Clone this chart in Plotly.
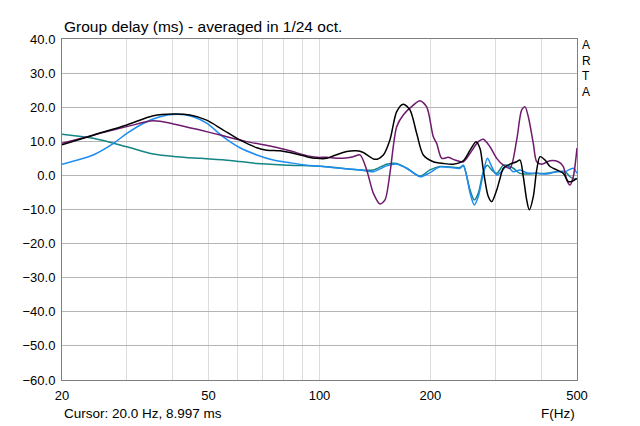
import math
import plotly.graph_objects as go

# ---------------- data ----------------
black_f = [20, 24.3, 30.0, 35.4, 40.1, 44.5, 49.4, 54.8, 60.8, 67.6, 71.9, 78.1, 83.1,
           92.3, 98.3, 104.6, 108.8, 118.6, 126.2, 131.5, 141.5, 149.0, 155.3, 162.0,
           168.8, 176.0, 183.6, 191.3, 203.7, 216.8, 230.8, 245.7, 256.3, 266.0, 272.7,
           278.4, 287.2, 293.4, 302.7, 309.0, 315.5, 328.9, 343.0, 350.2, 357.5, 365.1,
           371.1, 380.5, 388.7, 396.8, 409.4, 422.4, 440.4, 459.0, 473.6, 483.7, 499.0]
black_v = [9.0, 11.8, 14.8, 17.5, 18.0, 17.7, 16.2, 13.3, 10.4, 8.1, 7.4, 7.2, 6.7,
           5.5, 5.0, 5.0, 5.7, 7.0, 7.2, 6.7, 4.7, 6.0, 10.4, 18.7,
           20.9, 19.2, 12.3, 6.0, 4.0, 3.5, 3.3, 4.3, 7.4, 9.9, 7.9,
           1.6, -6.2, -7.7, -4.3, -0.9, 2.1, 3.3, 4.0, 4.5, -0.4, -7.2,
           -10.1, -6.2, 1.6, 5.5, 4.5, 2.6, 1.6, 0.6, -1.8, -1.8, -0.9]

purple_f = [20, 24.3, 30.0, 35.4, 40.1, 47.4, 54.8, 63.4, 74.9, 83.1, 92.3, 98.3, 104.6,
            113.7, 123.5, 128.8, 134.3, 140.0, 146.0, 150.6, 155.3, 162.0, 168.8, 179.7,
            187.4, 195.4, 203.7, 208.0, 214.7, 223.7, 233.3, 245.7, 256.3, 269.8, 278.4,
            290.3, 302.7, 315.5, 328.9, 343.0, 353.9, 361.3, 368.8, 380.5, 388.7, 401.0,
            422.4, 444.9, 459.0, 468.8, 478.6, 488.5, 500.0]
purple_v = [9.4, 11.8, 14.3, 16.0, 15.1, 13.3, 11.6, 9.9, 8.4, 7.2, 5.8, 5.3, 5.3,
            5.0, 5.5, 6.0, 1.6, -5.2, -8.4, -7.2, 0.6, 14.3, 17.7, 20.6,
            21.9, 20.1, 11.3, 9.4, 5.0, 5.3, 4.5, 4.0, 6.5, 9.9, 10.6,
            8.4, 5.0, 3.0, 2.1, 10.4, 19.2, 20.1, 17.2, 9.4, 4.0, 3.3,
            4.3, 4.0, 2.6, -1.3, -2.8, -0.4, 8.0]

blue_f = [20, 24.3, 27.6, 30.0, 33.3, 36.9, 41.0, 45.4, 49.4, 54.8, 60.8, 67.6, 74.9,
          83.1, 92.3, 102.4, 113.7, 128.8, 140.0, 152.2, 162.0, 172.5, 187.4, 199.5,
          212.4, 240.7, 245.7, 251.0, 256.3, 263.2, 269.8, 278.4, 285.5, 293.4, 302.7,
          312.3, 322.2, 335.7, 350.2, 365.1, 388.7, 413.8, 440.4, 464.0, 488.5, 500.0]
blue_v = [3.3, 6.0, 9.4, 12.3, 15.3, 17.2, 17.9, 17.2, 15.3, 11.3, 8.1, 6.0, 4.5,
          3.7, 3.0, 2.6, 2.1, 1.6, 1.1, 2.8, 3.3, 2.1, -0.4, 0.8,
          2.5, 2.1, 3.0, -0.4, -5.2, -8.7, -6.2, 0.6, 5.0, 2.6, 0.1,
          1.1, 2.8, 1.1, 1.6, 0.8, 0.6, 0.4, 1.1, 1.1, 2.1, 0.6]

teal_f = [20, 24.3, 30.0, 35.4, 41.0, 47.4, 57.2, 67.6, 83.1, 102.4, 128.8, 140.0,
          152.2, 162.0, 172.5, 187.4, 199.5, 212.4, 240.7, 245.7, 256.3, 263.2, 269.8,
          278.4, 285.5, 293.4, 302.7, 315.5, 322.2, 335.7, 350.2, 365.1, 388.7, 413.8,
          440.4, 464.0, 478.6, 493.8, 500.0]
teal_v = [12.1, 10.9, 8.4, 6.3, 5.5, 5.0, 4.4, 3.5, 3.0, 2.6, 1.6, 1.6,
          3.3, 3.5, 2.1, -0.2, 1.6, 2.6, 2.3, 2.9, -4.3, -7.2, -5.2,
          1.1, 3.0, 1.6, 0.6, 3.0, 3.0, 2.1, 0.6, 0.4, 0.6, 0.6,
          1.1, 1.1, -0.4, -1.1, -0.9]

x_grid = [20, 30, 40, 50, 60, 70, 80, 90, 100, 200, 300, 400, 500]
x_labels = ["20", "", "", "50", "", "", "", "", "100", "200", "", "", "500"]
y_ticks = [40, 30, 20, 10, 0, -10, -20, -30, -40, -50, -60]

FONT = "Liberation Sans, Arial, sans-serif"

fig = go.Figure()
for f, v, col in [(teal_f, teal_v, "#148585"),
                  (blue_f, blue_v, "#1e8cf0"),
                  (purple_f, purple_v, "#6e1a6e"),
                  (black_f, black_v, "#000000")]:
    fig.add_trace(go.Scatter(x=f, y=v, mode="lines",
                             line=dict(color=col, width=1.5, shape="spline", smoothing=0.8),
                             showlegend=False, hoverinfo="skip"))

# darker grid line at 100 Hz
fig.add_shape(type="line", xref="x", yref="paper", x0=math.log10(100), x1=math.log10(100),
              y0=0, y1=1, line=dict(color="#a8a8a8", width=1), layer="below")

fig.update_xaxes(type="log", range=[math.log10(20), math.log10(500)],
                 tickvals=x_grid, ticktext=x_labels, ticks="",
                 showgrid=True, gridcolor="#dcdcdc", gridwidth=1,
                 showline=True, linecolor="#808080", linewidth=1, mirror=True,
                 zeroline=False, tickfont=dict(family=FONT, size=13, color="#000"),
                 ticklabelstandoff=3)
fig.update_yaxes(range=[-60, 40], tickvals=y_ticks, tickformat=".1f", ticks="",
                 showgrid=True, gridcolor="#b4b4b4", gridwidth=1,
                 showline=True, linecolor="#808080", linewidth=1, mirror=True,
                 zeroline=False, tickfont=dict(family=FONT, size=13, color="#000"),
                 ticklabelstandoff=3)

ann = [
    dict(text="Group delay (ms) - averaged in 1/24 oct.", xref="paper", yref="paper",
         x=0, y=1, xanchor="left", yanchor="bottom", yshift=2, showarrow=False,
         font=dict(family=FONT, size=15.5, color="#000")),
    dict(text="A<br>R<br>T<br>A", xref="paper", yref="paper", x=1, y=1,
         xanchor="left", yanchor="top", xshift=3, yshift=3, showarrow=False, align="left",
         font=dict(family=FONT, size=12, color="#000")),
    dict(text="Cursor: 20.0 Hz, 8.997 ms", xref="paper", yref="paper", x=0, y=0,
         xanchor="left", yanchor="middle", yshift=-33, showarrow=False,
         font=dict(family=FONT, size=13.5, color="#000")),
    dict(text="F(Hz)", xref="paper", yref="paper", x=1, y=0,
         xanchor="right", yanchor="middle", yshift=-33, showarrow=False,
         font=dict(family=FONT, size=13.5, color="#000")),
]

# page body has an 8px margin; size the figure so the plot area lands where the reference has it
fig.update_layout(width=632, height=418, margin=dict(l=54, r=63, t=31, b=46),
                  paper_bgcolor="white", plot_bgcolor="white", annotations=ann,
                  font=dict(family=FONT))

fig.write_html("out.html")
